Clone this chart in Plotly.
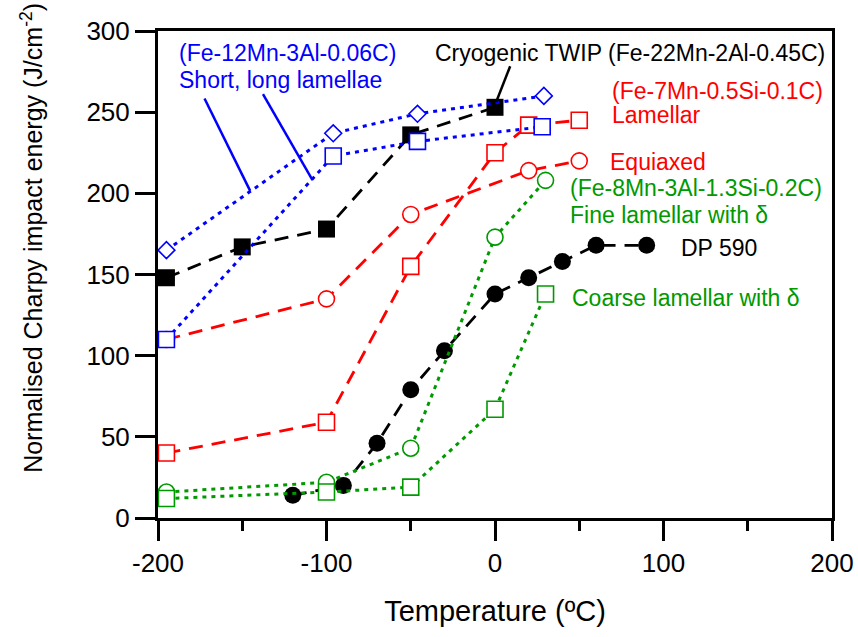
import plotly.graph_objects as go

# ---------------- data ----------------
blue_dia_x = [-195, -96, -46, 29]
blue_dia_y = [165, 237, 249, 260]

blue_sq_x = [-195, -96, -46, 28]
blue_sq_y = [110, 223, 232, 241]

twip_x = [-195, -150, -100, -50, 0]
twip_y = [148, 167, 178, 236, 253]

red_sq_x = [-195, -100, -50, 0, 20, 50]
red_sq_y = [40, 59, 155, 225, 242, 245]

red_ci_x = [-195, -100, -50, 20, 50]
red_ci_y = [110, 135, 187, 214, 220]

grn_ci_x = [-195, -100, -50, 0, 30]
grn_ci_y = [16, 22, 43, 173, 208]

grn_sq_x = [-195, -100, -50, 0, 30]
grn_sq_y = [12, 16, 19, 67, 138]

dp_x = [-120, -90, -70, -50, -30, 0, 20, 40, 60, 90]
dp_y = [14, 20, 46, 79, 103, 138, 148, 158, 168, 168]

x_ticks = [-200, -100, 0, 100, 200]
x_tick_text = ["-200", "-100", "0", "100", "200"]
y_ticks = [0, 50, 100, 150, 200, 250, 300]

FONT = "Liberation Sans, Arial, sans-serif"
BLUE = "#0000ff"
RED = "#ff0000"
GREEN = "#009900"
BLACK = "#000000"

fig = go.Figure()


def add(x, y, color, dash, symbol, size, filled, lw=2.8):
    fig.add_trace(go.Scatter(
        x=x, y=y, mode="lines+markers",
        line=dict(color=color, width=lw, dash=dash),
        marker=dict(symbol=symbol, size=size,
                    color=color if filled else "white",
                    line=dict(color=color, width=0 if filled else 1.6)),
        showlegend=False, cliponaxis=False))


DASH = "14px,9px"
DOT = "4px,5px"

add(dp_x, dp_y, BLACK, DASH, "circle", 17, True)
add(twip_x, twip_y, BLACK, DASH, "square", 17, True)
add(red_sq_x, red_sq_y, RED, DASH, "square", 16, False)
add(red_ci_x, red_ci_y, RED, DASH, "circle", 16, False)
add(grn_ci_x, grn_ci_y, GREEN, DOT, "circle", 16, False, 3)
add(grn_sq_x, grn_sq_y, GREEN, DOT, "square", 16, False, 3)
add(blue_dia_x, blue_dia_y, BLUE, DOT, "diamond", 13, False, 3)
add(blue_sq_x, blue_sq_y, BLUE, DOT, "square", 16, False, 3)

# pointer lines
fig.add_shape(type="line", x0=-172.4, y0=258.4, x1=-145.3, y1=201.5,
              line=dict(color=BLUE, width=2.5))
fig.add_shape(type="line", x0=-137.7, y0=261.1, x1=-108.3, y1=208.1,
              line=dict(color=BLUE, width=2.5))
fig.add_shape(type="line", x0=9.0, y0=278.3, x1=0.7, y1=256.3,
              line=dict(color=BLACK, width=2.5))

ANN = 23


def note(x, y, text, color):
    fig.add_annotation(x=x, y=y, xref="x", yref="y", text=text,
                       showarrow=False, xanchor="left", yanchor="middle",
                       font=dict(family=FONT, size=ANN, color=color))


note(-188.5, 286.3, "(Fe-12Mn-3Al-0.06C)", BLUE)
note(-188.5, 269.7, "Short, long lamellae", BLUE)
note(-36.7, 286.3, "Cryogenic TWIP (Fe-22Mn-2Al-0.45C)", BLACK)
note(68.5, 263.1, "(Fe-7Mn-0.5Si-0.1C)", RED)
note(68.5, 248.1, "Lamellar", RED)
note(67.1, 219.3, "Equiaxed", RED)
note(43.4, 203.1, "(Fe-8Mn-3Al-1.3Si-0.2C)", GREEN)
note(43.4, 186.5, "Fine lamellar with δ", GREEN)
note(109.2, 166.2, "DP 590", BLACK)
note(44.5, 135.4, "Coarse lamellar with δ", GREEN)

# y-axis title as rotated annotation
fig.add_annotation(x=-0.1864, y=0.576, xref="paper", yref="paper",
                   text="Normalised Charpy impact energy (J/cm<sup>-2</sup>)",
                   textangle=-90, showarrow=False,
                   xanchor="center", yanchor="middle",
                   font=dict(family=FONT, size=25, color=BLACK))

fig.update_layout(
    width=858, height=637,
    margin=dict(l=158, r=26, t=31, b=119, autoexpand=False),
    plot_bgcolor="white", paper_bgcolor="white",
    font=dict(family=FONT, color=BLACK),
)

fig.update_xaxes(
    range=[-200, 200], tickmode="array", tickvals=x_ticks, ticktext=x_tick_text,
    ticks="outside", ticklen=20, tickwidth=3, tickcolor=BLACK,
    minor=dict(dtick=50, tick0=0, ticks="outside", ticklen=10, tickwidth=3, tickcolor=BLACK, showgrid=False),
    showline=True, linewidth=3, linecolor=BLACK, mirror=True,
    showgrid=False, zeroline=False, automargin=False,
    tickfont=dict(family=FONT, size=26, color=BLACK),
    title=dict(text="Temperature (ºC)", font=dict(family=FONT, size=29, color=BLACK), standoff=24),
)
fig.update_yaxes(
    range=[0, 300], tickmode="array", tickvals=y_ticks,
    ticks="outside", ticklen=20, tickwidth=3, tickcolor=BLACK,
    showline=True, linewidth=3, linecolor=BLACK, mirror=True,
    showgrid=False, zeroline=False, automargin=False,
    tickfont=dict(family=FONT, size=26, color=BLACK),
)

fig.write_html("out.html")
